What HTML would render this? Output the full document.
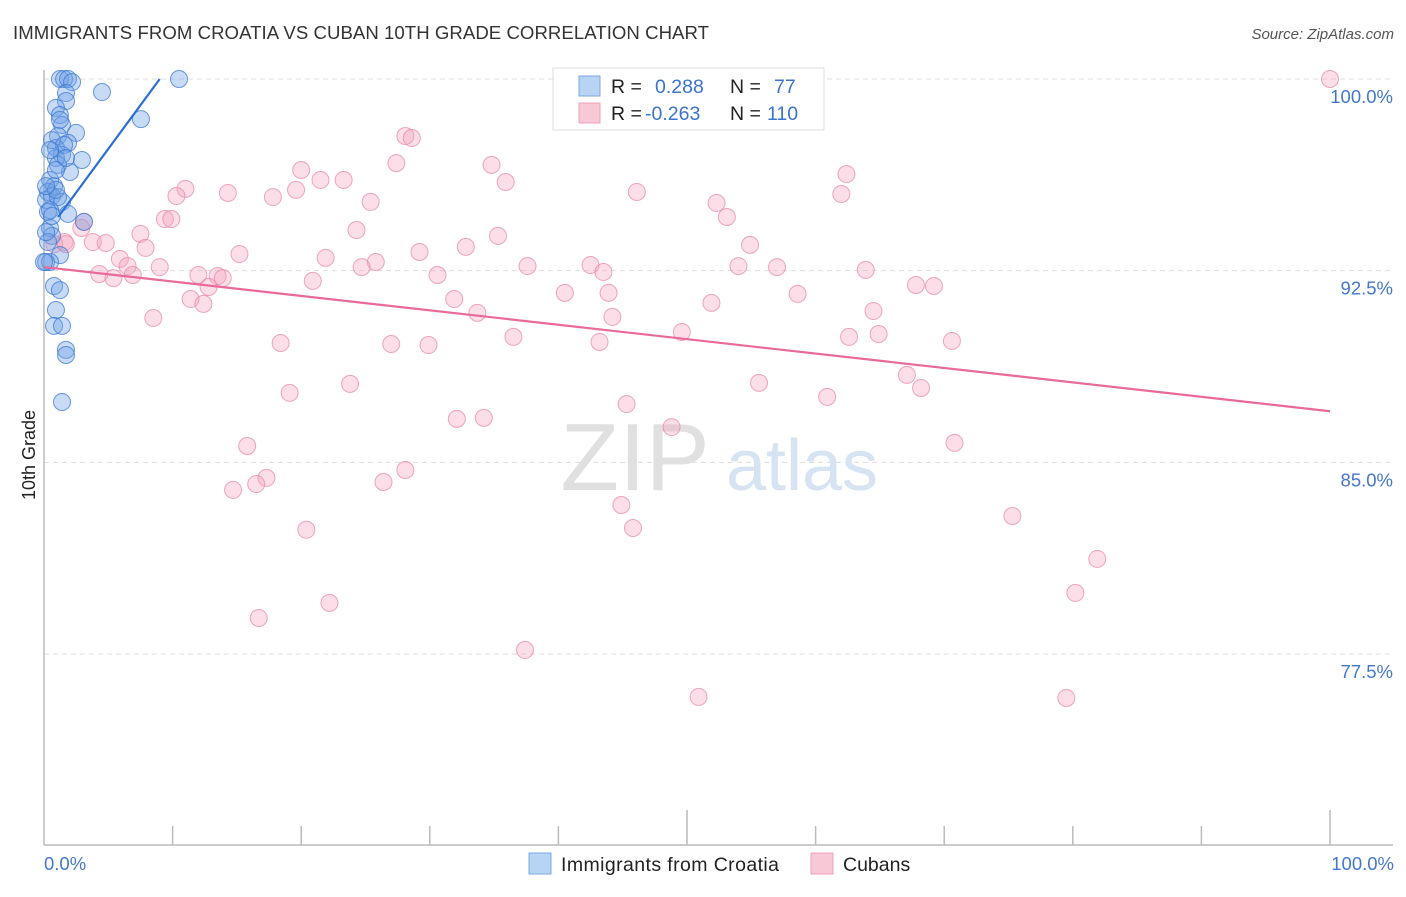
<!DOCTYPE html>
<html><head><meta charset="utf-8"><style>
body{margin:0;background:#fff;font-family:"Liberation Sans",sans-serif;}
svg text{font-family:"Liberation Sans",sans-serif;}
</style></head><body>
<svg width="1406" height="892">
<text x="13" y="39" font-size="18.6" fill="#333" textLength="696">IMMIGRANTS FROM CROATIA VS CUBAN 10TH GRADE CORRELATION CHART</text>
<text x="1394" y="39" font-size="15" fill="#555" font-style="italic" text-anchor="end">Source: ZipAtlas.com</text>
<g id="grid"></g>
<text x="635" y="490" font-size="96" fill="#e0e0e0" font-family="Liberation Serif" text-anchor="middle">ZIP</text>
<text x="802" y="490" font-size="72" fill="#d6e3f3" text-anchor="middle">atlas</text>
<g id="pts"></g>
<g id="lines"></g>
<text x="35" y="455" font-size="18" fill="#222" transform="rotate(-90 35 455)" text-anchor="middle">10th Grade</text>
<text x="44" y="870" font-size="18.5" fill="#4477cc">0.0%</text>
<text x="1394" y="870" font-size="18.5" fill="#4477cc" text-anchor="end">100.0%</text>
<g>
<rect x="553" y="68" width="271" height="62" fill="#fff" stroke="#ddd"/>
<rect x="579" y="76" width="21" height="20" fill="#b8d4f5" stroke="#7aa8e0"/>
<rect x="579" y="103" width="21" height="20" fill="#f9c8d6" stroke="#eea0b8"/>
<text x="611" y="93" font-size="19.5" fill="#222">R = </text><text x="655" y="93" font-size="19.5" fill="#3a74d0">0.288</text>
<text x="730" y="93" font-size="19.5" fill="#222">N = </text><text x="774" y="93" font-size="19.5" fill="#3a74d0">77</text>
<text x="611" y="120" font-size="19.5" fill="#222">R = </text><text x="645" y="120" font-size="19.5" fill="#3a74d0">-0.263</text>
<text x="730" y="120" font-size="19.5" fill="#222">N = </text><text x="767" y="120" font-size="19.5" fill="#3a74d0">110</text>
</g>
<g>
<rect x="529" y="853" width="22" height="21" fill="#b8d4f5" stroke="#7aa8e0"/>
<text x="561" y="871" font-size="19.5" fill="#222" textLength="218">Immigrants from Croatia</text>
<rect x="811" y="853" width="22" height="21" fill="#f9c8d6" stroke="#eea0b8"/>
<text x="843" y="871" font-size="19.5" fill="#222">Cubans</text>
</g>
</svg>
<script>
const yTicks=[100,92.5,85,77.5];
const yTickLabels=["100.0%","92.5%","85.0%","77.5%"];
const xTicks=[10,20,30,40,50,60,70,80,90,100];
const croatiaX=[1.24,1.56,1.87,2.18,4.51,10.5,7.54,1.71,1.71,0.93,1.24,1.4,2.49,1.09,1.87,0.93,1.4,0.93,2.95,2.02,0.47,0.78,0.31,0.62,0.16,1.4,1.87,0.31,3.11,0.47,0.62,0.31,1.24,0.16,0.47,0.78,1.24,0.93,0.78,1.4,1.71,1.71,1.4,0.16,1.09,0.47,0,0.62,1.09,1.56,0.93,1.71,0.93,0.16,0.62,1.24,0.47];
const croatiaY=[100,100,100,99.88,99.49,100,98.43,99.45,99.14,98.87,98.59,98.2,97.89,97.77,97.5,97.3,97.03,96.91,96.83,96.36,96.05,95.81,95.58,95.42,95.27,95.19,94.72,94.8,94.41,94.17,93.86,93.62,93.11,92.84,92.84,91.9,91.74,90.96,90.34,90.34,89.4,89.2,87.36,94.01,95.38,94.87,92.84,97.61,96.64,97.42,96.44,96.91,95.66,95.81,94.64,98.4,97.22];
const cubanX=[100,28.1,28.6,27.4,34.8,20.0,62.4,35.9,21.5,23.3,11.0,19.6,46.1,14.3,17.8,62.0,10.3,25.4,52.3,9.4,9.9,53.1,3.1,2.9,24.3,35.3,7.5,32.8,54.9,1.6,0.8,1.7,3.8,4.8,7.9,29.2,15.2,21.9,5.9,6.5,25.8,9.0,37.6,24.7,42.5,43.5,54.0,57.0,63.9,30.6,4.3,5.4,6.9,12.0,13.5,13.9,20.9,12.8,67.8,69.2,40.5,43.9,58.6,11.4,31.9,12.4,51.9,33.7,64.5,8.5,44.2,49.6,36.5,64.9,62.6,18.4,27.0,29.9,43.2,70.6,67.1,23.8,55.6,68.2,19.1,60.9,45.3,32.1,34.2,48.8,15.8,70.8,28.1,17.3,16.5,26.4,14.7,44.9,75.3,20.4,45.8,81.9,80.2,22.2,16.7,37.4,50.9,79.5];
const cubanY=[100,97.77,97.69,96.71,96.64,96.44,96.28,95.97,96.05,96.05,95.7,95.66,95.58,95.54,95.38,95.5,95.42,95.19,95.15,94.52,94.52,94.6,94.41,94.17,94.09,93.86,93.94,93.43,93.51,93.62,93.54,93.54,93.62,93.58,93.39,93.23,93.15,93.0,92.96,92.68,92.84,92.64,92.68,92.64,92.72,92.45,92.68,92.64,92.53,92.33,92.37,92.21,92.33,92.33,92.29,92.21,92.1,91.86,91.94,91.9,91.63,91.63,91.59,91.39,91.39,91.2,91.24,90.85,90.92,90.65,90.69,90.1,89.91,90.02,89.91,89.67,89.63,89.59,89.71,89.75,88.42,88.07,88.11,87.91,87.72,87.56,87.28,86.7,86.74,86.38,85.64,85.76,84.7,84.39,84.15,84.23,83.92,83.33,82.9,82.36,82.43,81.22,79.89,79.5,78.91,77.66,75.82,75.78];
const croatiaTrendX=[1.1,9.0], croatiaTrendY=[94.6,100];
const cubanTrendX=[0,100], cubanTrendY=[92.64,87.0];
const X0=44,X1=1330;
function sx(v){return X0+(X1-X0)*v/100;}
function sy(v){return 79+(100-v)*(654-79)/22.5;}
const NS="http://www.w3.org/2000/svg";
function mk(t,a,p){const e=document.createElementNS(NS,t);for(const k in a)e.setAttribute(k,a[k]);p.appendChild(e);return e;}
const grid=document.getElementById('grid');
yTicks.forEach((v,i)=>{
 const l=mk('line',{x1:44,x2:1393,y1:sy(v),y2:sy(v),stroke:'#ddd','stroke-dasharray':'5,4'},grid);
 
 
 const t=mk('text',{x:1393,y:sy(v)+24,'font-size':18.5,fill:'#4477cc','text-anchor':'end'},grid);
 t.textContent=yTickLabels[i];
 
 
});
const ax=mk('line',{x1:44,x2:44,y1:70,y2:845,stroke:'#bbb','stroke-width':1.5},grid);


const bx=mk('line',{x1:44,x2:1393,y1:845,y2:845,stroke:'#bbb','stroke-width':1.5},grid);


xTicks.forEach((v,i)=>{
 const t=mk('line',{x1:sx(v),x2:sx(v),y1:(v===50||v===100)?810:826,y2:845,stroke:'#bbb','stroke-width':1.5},grid);
 
 
});
const pts=document.getElementById('pts');
cubanX.forEach((v,i)=>{
 const c=mk('circle',{cx:sx(v),cy:sy(cubanY[i]),r:8.5,fill:'rgba(244,160,188,0.35)',stroke:'rgba(232,130,165,0.7)','stroke-width':1},pts);
 
 
});
croatiaX.forEach((v,i)=>{
 const c=mk('circle',{cx:sx(v),cy:sy(croatiaY[i]),r:8.5,fill:'rgba(110,160,230,0.38)',stroke:'rgba(60,120,210,0.75)','stroke-width':1},pts);
 
 
});
const lines=document.getElementById('lines');
const lb=mk('line',{x1:sx(croatiaTrendX[0]),y1:sy(croatiaTrendY[0]),x2:sx(croatiaTrendX[1]),y2:sy(croatiaTrendY[1]),stroke:'#2a6fd6','stroke-width':2.2},lines);


const lp=mk('line',{x1:sx(cubanTrendX[0]),y1:sy(cubanTrendY[0]),x2:sx(cubanTrendX[1]),y2:sy(cubanTrendY[1]),stroke:'#e8699a','stroke-width':2.2},lines);


</script>
</body></html>
